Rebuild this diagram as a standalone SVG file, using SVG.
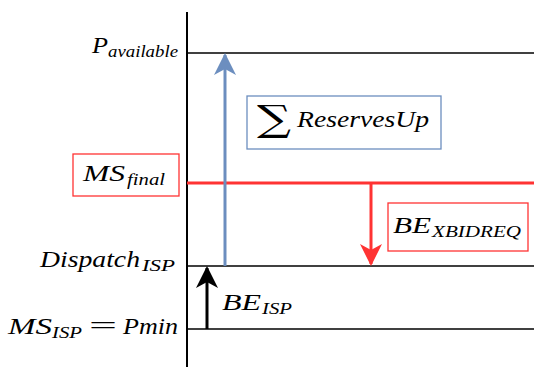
<svg xmlns="http://www.w3.org/2000/svg" width="534" height="367" viewBox="0 0 534 367">
<style>
.ax{stroke:#000;stroke-width:2;fill:none}
.lvl{stroke:#000;stroke-width:1.5;fill:none}
.t{font-family:"Liberation Serif","DejaVu Serif",serif;font-style:italic;fill:#000}
.m{font-size:24px}
.s{font-size:17px}
.rbox{fill:#fff;stroke:#ff3333;stroke-width:1.3}
.bbox{fill:#fff;stroke:#6c8ebf;stroke-width:1.3}
</style>
<defs>
<marker id="ab" viewBox="0 0 22 22" markerWidth="22" markerHeight="22" refX="20" refY="11" orient="auto" markerUnits="userSpaceOnUse"><path d="M0,0 L22,11 L0,22 L6,11 Z" fill="#6c8ebf"/></marker>
<marker id="ar" viewBox="0 0 22 22" markerWidth="22" markerHeight="22" refX="20" refY="11" orient="auto" markerUnits="userSpaceOnUse"><path d="M0,0 L22,11 L0,22 L6,11 Z" fill="#ff3333"/></marker>
<marker id="ak" viewBox="0 0 22 22" markerWidth="22" markerHeight="22" refX="20" refY="11" orient="auto" markerUnits="userSpaceOnUse"><path d="M0,0 L22,11 L0,22 L6,11 Z" fill="#000"/></marker>
</defs>
<g id="axes">
<line class="ax" x1="187" y1="12" x2="187" y2="367"/>
<line class="lvl" x1="187" y1="53" x2="534" y2="53"/>
<line class="lvl" x1="187" y1="266" x2="534" y2="266"/>
<line class="lvl" x1="187" y1="329" x2="534" y2="329"/>
<line x1="187" y1="183" x2="534" y2="183" stroke="#ff3333" stroke-width="3"/>
</g>
<g id="connectors">
<line x1="225" y1="266" x2="225" y2="55" stroke="#6c8ebf" stroke-width="3" marker-end="url(#ab)"/>
<line x1="371" y1="183" x2="371" y2="264" stroke="#ff3333" stroke-width="3" marker-end="url(#ar)"/>
<line x1="207" y1="329" x2="207" y2="268" stroke="#000" stroke-width="3" marker-end="url(#ak)"/>
</g>
<g id="p-available">
<text class="t m" x="92" y="53" textLength="16" lengthAdjust="spacingAndGlyphs">P</text>
<text class="t s" x="108" y="57" textLength="70" lengthAdjust="spacingAndGlyphs">available</text>
</g>
<g id="reserves-up">
<rect class="bbox" x="247" y="96" width="194" height="53"/>
<text x="257" y="131" font-family="'DejaVu Serif',serif" font-size="36" textLength="34" lengthAdjust="spacingAndGlyphs">∑</text>
<text class="t m" x="297" y="127" textLength="132" lengthAdjust="spacingAndGlyphs">ReservesUp</text>
</g>
<g id="ms-final">
<rect class="rbox" x="73" y="154" width="106" height="42"/>
<text class="t m" x="83" y="181" textLength="42" lengthAdjust="spacingAndGlyphs">MS</text>
<text class="t s" x="127" y="185" textLength="38" lengthAdjust="spacingAndGlyphs">final</text>
</g>
<g id="be-xbidreq">
<rect class="rbox" x="388" y="203" width="140" height="48"/>
<text class="t m" x="393" y="233" textLength="38" lengthAdjust="spacingAndGlyphs">BE</text>
<text class="t s" x="432" y="237" textLength="89" lengthAdjust="spacingAndGlyphs">XBIDREQ</text>
</g>
<g id="dispatch-isp">
<text class="t m" x="40" y="267" textLength="100" lengthAdjust="spacingAndGlyphs">Dispatch</text>
<text class="t s" x="142" y="271" textLength="33" lengthAdjust="spacingAndGlyphs">ISP</text>
</g>
<g id="be-isp">
<text class="t m" x="222" y="310" textLength="39" lengthAdjust="spacingAndGlyphs">BE</text>
<text class="t s" x="262" y="314" textLength="30" lengthAdjust="spacingAndGlyphs">ISP</text>
</g>
<g id="ms-isp">
<text class="t m" x="8" y="334" textLength="44" lengthAdjust="spacingAndGlyphs">MS</text>
<text class="t s" x="52" y="338" textLength="30" lengthAdjust="spacingAndGlyphs">ISP</text>
<text x="89" y="334" font-family="'Liberation Serif',serif" font-size="26" textLength="28" lengthAdjust="spacingAndGlyphs">=</text>
<text class="t m" x="123" y="334" textLength="55" lengthAdjust="spacingAndGlyphs">Pmin</text>
</g>
</svg>
